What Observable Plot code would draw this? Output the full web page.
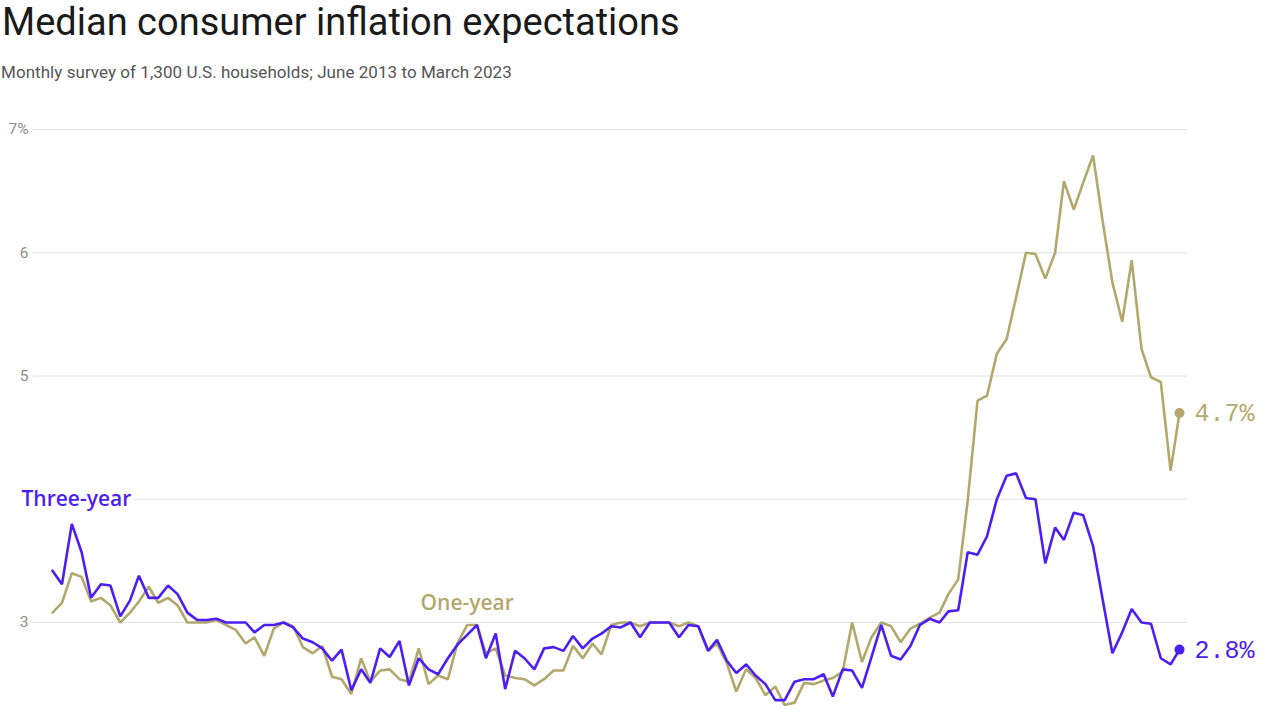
<!DOCTYPE html>
<html>
<head>
<meta charset="utf-8">
<script src="https://cdn.jsdelivr.net/npm/d3@7"></script>
<script src="https://cdn.jsdelivr.net/npm/@observablehq/plot@0.6"></script>
<style>
  html, body { margin: 0; padding: 0; background: #fff; overflow: hidden; }
  #wrap { position: relative; width: 1280px; height: 719px; }
  #title { position: absolute; left: 2px; top: 3px; line-height: 39px; font-family: Roboto, sans-serif; font-size: 38px; color: #1a1a1a; white-space: nowrap; letter-spacing: 0px; }
  #subtitle { position: absolute; left: 1px; top: 62px; line-height: 20px; font-family: Roboto, sans-serif; font-size: 17px; color: #555; white-space: nowrap; letter-spacing: 0.05px; }
  #chart { position: absolute; left: 0; top: 100px; }
</style>
</head>
<body>
<div id="wrap">
  <div id="title">Median consumer inflation expectations</div>
  <div id="subtitle">Monthly survey of 1,300 U.S. households; June 2013 to March 2023</div>
  <div id="chart"></div>
</div>
<script>
// Monthly observations, June 2013 through March 2023
const firstMonth = "2013-06-01";
const lastMonth = "2023-03-01";

const threeYear = [
  3.42, 3.31, 3.80, 3.57, 3.20, 3.31, 3.30, 3.05, 3.18, 3.38,
  3.20, 3.20, 3.30, 3.23, 3.08, 3.02, 3.02, 3.03, 3.00, 3.00,
  3.00, 2.92, 2.98, 2.98, 3.00, 2.96, 2.87, 2.84, 2.79, 2.69,
  2.78, 2.45, 2.62, 2.51, 2.79, 2.72, 2.85, 2.49, 2.71, 2.62,
  2.58, 2.71, 2.82, 2.90, 2.98, 2.71, 2.91, 2.46, 2.77, 2.71,
  2.62, 2.79, 2.80, 2.77, 2.89, 2.79, 2.87, 2.91, 2.97, 2.96,
  3.00, 2.88, 3.00, 3.00, 3.00, 2.88, 2.98, 2.97, 2.77, 2.86,
  2.69, 2.59, 2.66, 2.57, 2.50, 2.37, 2.37, 2.52, 2.54, 2.54,
  2.58, 2.40, 2.62, 2.61, 2.47, 2.72, 2.98, 2.73, 2.70, 2.81,
  2.98, 3.03, 3.00, 3.09, 3.10, 3.57, 3.55, 3.70, 4.00, 4.19,
  4.21, 4.01, 4.00, 3.48, 3.77, 3.67, 3.89, 3.87, 3.62, 3.19,
  2.75, 2.92, 3.11, 3.00, 2.99, 2.71, 2.66, 2.78
];

const oneYear = [
  3.08, 3.16, 3.40, 3.37, 3.17, 3.20, 3.14, 3.00, 3.08, 3.17,
  3.29, 3.16, 3.20, 3.14, 3.00, 3.00, 3.00, 3.02, 2.98, 2.94,
  2.83, 2.88, 2.73, 2.95, 3.00, 2.97, 2.80, 2.75, 2.81, 2.56,
  2.54, 2.42, 2.71, 2.52, 2.61, 2.62, 2.54, 2.52, 2.79, 2.50,
  2.57, 2.54, 2.83, 2.98, 2.98, 2.75, 2.79, 2.57, 2.55, 2.54,
  2.49, 2.54, 2.61, 2.61, 2.81, 2.71, 2.83, 2.74, 2.98, 3.00,
  3.00, 2.97, 3.00, 3.00, 3.00, 2.97, 3.00, 2.97, 2.77, 2.83,
  2.67, 2.44, 2.62, 2.55, 2.41, 2.48, 2.33, 2.35, 2.51, 2.50,
  2.53, 2.55, 2.60, 3.00, 2.68, 2.88, 3.00, 2.97, 2.84, 2.95,
  2.99, 3.04, 3.08, 3.23, 3.35, 3.99, 4.80, 4.84, 5.18, 5.30,
  5.64, 6.00, 5.99, 5.79, 6.00, 6.58, 6.35, 6.57, 6.79, 6.26,
  5.76, 5.44, 5.94, 5.22, 4.99, 4.95, 4.23, 4.70
];

const gridValues = [3, 4, 5, 6, 7];
const tickLabels = [
  {value: 3, label: "3"},
  {value: 5, label: "5"},
  {value: 6, label: "6"},
  {value: 7, label: "7%"}
];
const seriesNames = ["One-year", "Three-year"];
const endLabels = ["4.7%", "2.8%"];

const GOLD = "#b3a86c";
const BLUE = "#4d1ef2";

const months = d3.utcMonth.range(new Date(firstMonth), d3.utcMonth.offset(new Date(lastMonth), 1));
const oneData = months.map((date, i) => ({date, value: oneYear[i]}));
const threeData = months.map((date, i) => ({date, value: threeYear[i]}));
const lastIdx = months.length - 1;
const endData = [
  {date: months[lastIdx], value: oneYear[lastIdx], label: endLabels[0], color: GOLD},
  {date: months[lastIdx], value: threeYear[lastIdx], label: endLabels[1], color: BLUE}
];

const labelFont = "'Open Sans', sans-serif";

const chart = Plot.plot({
  width: 1280,
  height: 619,
  marginLeft: 52,
  marginRight: 101,
  marginTop: 29,
  marginBottom: 0,
  style: {color: "#8c8c8c", background: "transparent"},
  x: {type: "utc", domain: [months[0], months[lastIdx]], axis: null},
  y: {domain: [2.213, 7], axis: null},
  marks: [
    Plot.ruleY(gridValues, {stroke: "#e2e2e2", strokeWidth: 1, insetLeft: -19, insetRight: -8}),
    Plot.axisY(tickLabels.map(d => d.value), {tickSize: 0, tickPadding: 24, fontSize: 15.5, fontFamily: "Roboto, sans-serif",
      label: null, tickFormat: v => tickLabels.find(t => t.value === v).label}),
    Plot.line(oneData, {x: "date", y: "value", stroke: GOLD, strokeWidth: 2.6, strokeLinejoin: "miter"}),
    Plot.line(threeData, {x: "date", y: "value", stroke: BLUE, strokeWidth: 2.6, strokeLinejoin: "miter"}),
    Plot.dot(endData, {x: "date", y: "value", fill: "color", r: 5}),
    Plot.text(endData, {x: "date", y: "value", text: "label", fill: "color", dx: 15, textAnchor: "start",
      fontFamily: "'Liberation Mono', 'DejaVu Sans Mono', monospace", fontSize: 25}),
    Plot.text([seriesNames[1]], {x: () => months[0], y: () => 4.0, text: d => d, dx: -31, textAnchor: "start",
      fill: BLUE, fontSize: 21, fontWeight: 600, fontFamily: labelFont, stroke: "white", strokeWidth: 8, paintOrder: "stroke"}),
    Plot.text([seriesNames[0]], {x: () => months[43], y: () => 3.155, text: d => d, textAnchor: "middle",
      fill: GOLD, fontSize: 21, fontWeight: 600, fontFamily: labelFont, stroke: "white", strokeWidth: 6, paintOrder: "stroke"})
  ]
});
document.getElementById("chart").appendChild(chart);
</script>
</body>
</html>
